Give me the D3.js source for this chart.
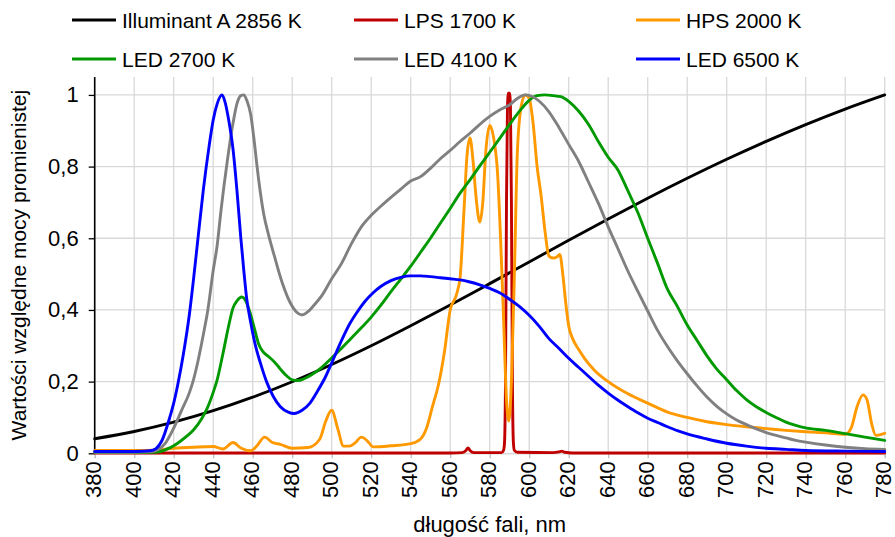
<!DOCTYPE html>
<html>
<head>
<meta charset="utf-8">
<script src="https://cdn.jsdelivr.net/npm/d3@7"></script>
<style>
  body { margin: 0; background: #fff; }
  svg { display: block; }
  text { font-family: Arial, "Liberation Sans", sans-serif; fill: #000; }
</style>
</head>
<body>
<svg id="chart" width="895" height="537"></svg>
<script>
// ---------- data ----------
const seriesNames = ["Illuminant A 2856 K", "LPS 1700 K", "HPS 2000 K", "LED 2700 K", "LED 4100 K", "LED 6500 K"];
const seriesColors = ["#000000", "#c00000", "#ff9900", "#009900", "#808080", "#0000ff"];
const xTicks = [380,400,420,440,460,480,500,520,540,560,580,600,620,640,660,680,700,720,740,760,780];
const yTicks = [0, 0.2, 0.4, 0.6, 0.8, 1];
const yTickLabels = ["0", "0,2", "0,4", "0,6", "0,8", "1"];
const xTitle = "długość fali, nm";
const yTitle = "Wartości względne mocy promienistej";

const illuminantA = [[380,0.0405],[400,0.0608],[420,0.0868],[440,0.1188],[460,0.1565],[480,0.1996],[500,0.2477],[520,0.3000],[540,0.3559],[560,0.4138],[580,0.4735],[600,0.5339],[620,0.5943],[640,0.6538],[660,0.7117],[680,0.7673],[700,0.8204],[720,0.8704],[740,0.9172],[760,0.9605],[780,1.0]];

const lps1700 = [[380,0.001],[560,0.001],[566,0.002],[568,0.008],[569,0.015],[570,0.008],[572,0.002],[586,0.002],[587,0.008],[587.5,0.03],[588,0.2],[588.5,0.7],[589,0.97],[589.5,1.005],[590,1.005],[590.5,0.97],[591,0.7],[591.5,0.2],[592,0.03],[592.5,0.008],[594,0.003],[612,0.002],[615,0.004],[616.5,0.006],[618,0.003],[622,0.001],[780,0.001]];

const hps2000 = [[380,0.008],[390,0.008],[400,0.008],[410,0.009],[420,0.014],[430,0.017],[440,0.019],[445,0.012],[450,0.03],[454,0.015],[459,0.007],[462,0.02],[466,0.045],[470,0.03],[474,0.025],[480,0.014],[488,0.016],[494,0.04],[497,0.09],[500,0.12],[503,0.07],[506,0.02],[509,0.02],[512,0.03],[515,0.045],[518,0.035],[521,0.018],[530,0.021],[540,0.027],[545,0.04],[548,0.07],[551,0.13],[554,0.19],[557,0.28],[560,0.40],[563,0.44],[565,0.49],[567,0.68],[568.5,0.83],[570,0.88],[571.5,0.82],[573,0.72],[575,0.645],[576.5,0.7],[578,0.84],[580,0.915],[582,0.88],[584,0.78],[585.5,0.6],[587,0.38],[588.5,0.15],[589.7,0.09],[591,0.2],[592.5,0.5],[594,0.84],[596,0.97],[598,1.0],[600,0.99],[602,0.92],[604,0.8],[606,0.72],[608,0.62],[610,0.55],[612,0.545],[614,0.548],[615.5,0.555],[617,0.5],[618.5,0.42],[620,0.355],[622,0.32],[625,0.29],[628,0.265],[633,0.232],[640,0.2],[650,0.166],[660,0.14],[670,0.115],[680,0.1],[690,0.088],[700,0.08],[710,0.074],[720,0.069],[730,0.064],[740,0.06],[750,0.057],[760,0.053],[763,0.07],[766,0.13],[769,0.163],[771,0.15],[773.5,0.08],[775.5,0.05],[778,0.052],[780,0.056]];

const led2700 = [[380,0.002],[400,0.002],[410,0.003],[413,0.005],[418,0.015],[422,0.028],[426,0.045],[430,0.065],[434,0.095],[437,0.126],[440,0.17],[442,0.205],[445,0.28],[448,0.36],[450,0.405],[452,0.425],[454.5,0.436],[456,0.43],[458.5,0.395],[461,0.345],[463,0.305],[465,0.285],[468,0.27],[471,0.255],[474,0.235],[477,0.217],[480,0.205],[483,0.203],[486,0.208],[490,0.22],[495,0.24],[500,0.266],[505,0.293],[510,0.322],[515,0.35],[520,0.38],[525,0.414],[530,0.451],[535,0.486],[540,0.522],[545,0.561],[550,0.6],[555,0.642],[560,0.683],[565,0.726],[570,0.763],[575,0.802],[580,0.84],[585,0.878],[590,0.917],[595,0.954],[600,0.985],[604,0.998],[608,1.0],[612,0.998],[616,0.995],[620,0.982],[625,0.955],[630,0.918],[635,0.87],[640,0.826],[645,0.79],[650,0.732],[655,0.672],[660,0.6],[665,0.53],[670,0.458],[675,0.41],[680,0.358],[685,0.315],[690,0.272],[695,0.235],[700,0.205],[705,0.175],[710,0.15],[715,0.13],[720,0.114],[725,0.1],[730,0.087],[735,0.078],[740,0.071],[750,0.064],[760,0.055],[770,0.045],[780,0.036]];

const led4100 = [[380,0.003],[400,0.003],[408,0.004],[412,0.01],[416,0.03],[420,0.07],[424,0.12],[428,0.17],[430,0.205],[432,0.25],[436,0.36],[437,0.39],[440,0.51],[442,0.58],[444,0.68],[447,0.81],[450,0.92],[452,0.975],[454,0.998],[455.5,1.0],[457,0.985],[459,0.945],[461,0.86],[462,0.81],[465.5,0.67],[468,0.61],[471,0.55],[475,0.475],[479,0.42],[482,0.395],[485,0.386],[488,0.395],[491,0.413],[495,0.44],[500,0.487],[505,0.53],[510,0.585],[515,0.632],[520,0.664],[525,0.69],[530,0.714],[535,0.737],[540,0.76],[545,0.772],[550,0.795],[555,0.822],[560,0.845],[565,0.87],[570,0.893],[575,0.918],[580,0.94],[585,0.958],[590,0.972],[594,0.99],[598,1.0],[601,0.997],[605,0.983],[610,0.953],[615,0.91],[620,0.862],[625,0.815],[630,0.757],[635,0.698],[640,0.632],[645,0.57],[650,0.508],[655,0.452],[660,0.397],[665,0.343],[670,0.298],[675,0.258],[680,0.222],[685,0.188],[690,0.157],[695,0.131],[700,0.11],[705,0.093],[710,0.08],[715,0.068],[720,0.058],[725,0.05],[730,0.043],[735,0.036],[740,0.031],[750,0.023],[760,0.017],[770,0.013],[780,0.011]];

const led6500 = [[380,0.005],[400,0.005],[408,0.007],[411,0.013],[414,0.035],[418,0.10],[420,0.14],[422,0.19],[425,0.28],[428,0.39],[430,0.484],[432,0.585],[435,0.735],[438,0.86],[440,0.93],[442,0.975],[444.5,1.0],[446,0.98],[448,0.925],[450,0.85],[452,0.735],[454,0.6],[455.5,0.51],[457,0.43],[459,0.365],[461,0.31],[464,0.25],[467,0.2],[470.5,0.158],[474,0.13],[478,0.115],[481,0.111],[485,0.12],[489,0.14],[493,0.175],[497,0.215],[501,0.265],[505,0.315],[509,0.36],[513,0.395],[517,0.425],[521,0.448],[525,0.466],[530,0.482],[535,0.491],[540,0.495],[545,0.495],[550,0.493],[555,0.49],[560,0.487],[565,0.484],[570,0.478],[575,0.47],[580,0.46],[585,0.448],[590,0.43],[595,0.41],[600,0.385],[605,0.355],[610,0.32],[615,0.293],[620,0.265],[625,0.24],[630,0.215],[635,0.19],[640,0.168],[645,0.148],[650,0.13],[655,0.113],[660,0.098],[665,0.086],[670,0.074],[675,0.063],[680,0.054],[690,0.04],[700,0.028],[710,0.02],[720,0.014],[730,0.011],[740,0.008],[760,0.006],[780,0.005]];

const seriesData = [illuminantA, lps1700, hps2000, led2700, led4100, led6500];

// ---------- layout ----------
const svg = d3.select("#chart");
const plot = { left: 94.7, right: 884.7, top: 77, bottom: 453.3 };
const x = d3.scaleLinear().domain([380, 780]).range([plot.left, plot.right]);
const y = d3.scaleLinear().domain([0, 1.05]).range([plot.bottom, plot.top]);
const fs = 22;
const legendFs = 21;

// grid
const grid = svg.append("g");
grid.selectAll("line.v").data(xTicks).enter().append("line")
  .attr("x1", d => x(d)).attr("x2", d => x(d))
  .attr("y1", plot.top).attr("y2", plot.bottom)
  .attr("stroke", "#d9d9d9").attr("stroke-width", 1.3);
grid.selectAll("line.h").data(yTicks).enter().append("line")
  .attr("x1", plot.left).attr("x2", plot.right)
  .attr("y1", d => y(d)).attr("y2", d => y(d))
  .attr("stroke", "#d9d9d9").attr("stroke-width", 1.3);

// x axis ticks and labels
const xAxis = svg.append("g").attr("transform", `translate(0,${plot.bottom})`)
  .call(d3.axisBottom(x).tickValues(xTicks).tickSize(5).tickFormat(d3.format("d")));
xAxis.select(".domain").attr("stroke", "#d9d9d9").attr("stroke-width", 1.3);
xAxis.selectAll(".tick line").attr("stroke", "#bfbfbf").attr("stroke-width", 1.3);
xAxis.selectAll(".tick text")
  .attr("font-size", fs).attr("font-family", "Arial, 'Liberation Sans', sans-serif")
  .attr("fill", "#000")
  .attr("text-anchor", "end")
  .attr("transform", "rotate(-90)")
  .attr("x", -8).attr("y", 0).attr("dy", "0.27em");

// y axis
const yAxis = svg.append("g").attr("transform", `translate(${plot.left},0)`)
  .call(d3.axisLeft(y).tickValues(yTicks).tickSize(6).tickPadding(10)
    .tickFormat((d, i) => yTickLabels[i]));
yAxis.select(".domain").attr("stroke", "#000").attr("stroke-width", 1.6)
  .attr("d", `M0,${plot.top}V${plot.bottom}`);
yAxis.selectAll(".tick line").attr("stroke", "#000").attr("stroke-width", 1.3);
yAxis.selectAll(".tick text")
  .attr("font-size", fs).attr("font-family", "Arial, 'Liberation Sans', sans-serif")
  .attr("fill", "#000");

// series
const line = d3.line().x(d => x(d[0])).y(d => y(d[1])).curve(d3.curveMonotoneX);
svg.append("g").selectAll("path").data(seriesData).enter().append("path")
  .attr("d", d => line(d))
  .attr("fill", "none")
  .attr("stroke", (d, i) => seriesColors[i])
  .attr("stroke-width", 2.9)
  .attr("stroke-linejoin", "round")
  .attr("stroke-linecap", "round");

// axis titles
svg.append("text")
  .attr("x", (plot.left + plot.right) / 2).attr("y", 532)
  .attr("text-anchor", "middle").attr("font-size", fs)
  .text(xTitle);
svg.append("text")
  .attr("transform", `translate(26,${(plot.top + plot.bottom) / 2}) rotate(-90)`)
  .attr("text-anchor", "middle").attr("font-size", legendFs)
  .text(yTitle);

// legend
const legCols = [72, 354, 636];
const legRows = [20, 59];
const legend = svg.append("g");
seriesNames.forEach((name, i) => {
  const lx = legCols[i % 3];
  const ly = legRows[Math.floor(i / 3)];
  legend.append("line")
    .attr("x1", lx).attr("x2", lx + 44)
    .attr("y1", ly).attr("y2", ly)
    .attr("stroke", seriesColors[i]).attr("stroke-width", 3.2);
  legend.append("text")
    .attr("x", lx + 50).attr("y", ly).attr("dy", "0.36em")
    .attr("font-size", legendFs)
    .text(name);
});
</script>
</body>
</html>
